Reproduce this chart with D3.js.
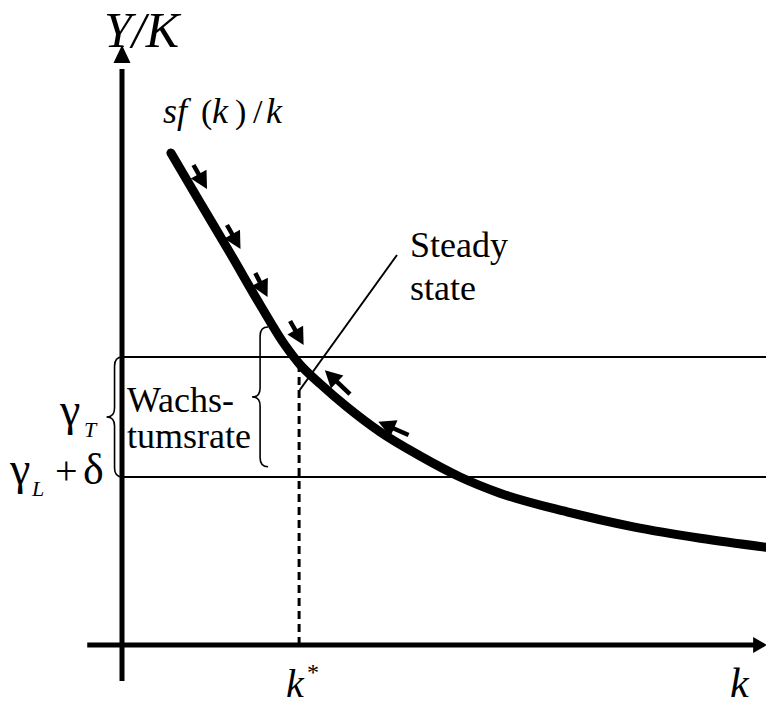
<!DOCTYPE html>
<html>
<head>
<meta charset="utf-8">
<script src="https://cdn.jsdelivr.net/npm/d3@7"></script>
<style>
  body { margin: 0; background: #fff; }
</style>
</head>
<body>
<svg id="chart"></svg>
<script>
// curve sf(k)/k (k, Y/K in arbitrary units 0..10)
const curveK = [0.76, 1.21, 1.68, 2.14, 2.53, 2.76, 3.08, 3.49, 4.01, 4.63, 5.25, 5.87, 6.91, 7.94, 8.98, 10.0];
const curveV = [8.2, 7.38, 6.53, 5.68, 5.0, 4.68, 4.35, 3.97, 3.55, 3.15, 2.8, 2.53, 2.22, 1.97, 1.78, 1.63];

// horizontal levels
const rateT = 4.8;   // gamma_T
const rateL = 2.8;   // gamma_L + delta
const kStar = 2.75;

// little arrows along the curve (tail -> tip)
const arrowTailK = [1.11, 1.63, 2.07, 2.61, 3.54, 4.45];
const arrowTailV = [8.0, 7.0, 6.2, 5.4, 4.18, 3.5];
const arrowTipK  = [1.32, 1.84, 2.26, 2.82, 3.15, 3.98];
const arrowTipV  = [7.6, 6.6, 5.8, 5.0, 4.58, 3.72];

// leader line to "Steady state"
const leaderK = [4.27, 2.76];
const leaderV = [6.5, 4.25];

// braces: k of tip, v bottom, v top
const braceK  = [-0.24, 2.02];
const braceV0 = [rateL, 2.97];
const braceV1 = [rateT, 5.3];

const width = 766;
const height = 705;
const serif = "'Liberation Serif', 'Times New Roman', Tinos, 'DejaVu Serif', 'Noto Serif', serif";

const svg = d3.select("#chart")
  .attr("width", width)
  .attr("height", height);

const x = d3.scaleLinear().domain([0, 10]).range([122, 766]);
const y = d3.scaleLinear().domain([0, 10]).range([645, 45]);

// horizontal rate lines
[rateT, rateL].forEach(v => {
  svg.append("line")
    .attr("x1", x(0)).attr("x2", x(10))
    .attr("y1", y(v)).attr("y2", y(v))
    .attr("stroke", "#000").attr("stroke-width", 2);
});

// dashed line at k*
const curveAtStar = d3.scaleLinear().domain(curveK).range(curveV)(kStar);
svg.append("line")
  .attr("x1", x(kStar)).attr("x2", x(kStar))
  .attr("y1", y(0)).attr("y2", y(curveAtStar) + 4)
  .attr("stroke", "#000").attr("stroke-width", 3)
  .attr("stroke-dasharray", "8,5");

// axes
svg.append("line")
  .attr("x1", x(0)).attr("x2", x(0))
  .attr("y1", y(-0.6)).attr("y2", y(9.6))
  .attr("stroke", "#000").attr("stroke-width", 5);
svg.append("path")
  .attr("d", `M${x(0)},${y(10)} L${x(0) - 8.5},${y(9.7)} L${x(0) + 8.5},${y(9.7)} Z`)
  .attr("fill", "#000");

svg.append("line")
  .attr("x1", x(-0.54)).attr("x2", x(9.82))
  .attr("y1", y(0)).attr("y2", y(0))
  .attr("stroke", "#000").attr("stroke-width", 5);
svg.append("path")
  .attr("d", `M${x(10) + 1},${y(0)} L${x(9.8)},${y(0) - 8} L${x(9.8)},${y(0) + 8} Z`)
  .attr("fill", "#000");

// the curve
const line = d3.line()
  .x(d => x(d[0]))
  .y(d => y(d[1]))
  .curve(d3.curveMonotoneX);

svg.append("path")
  .datum(d3.zip(curveK, curveV))
  .attr("d", line)
  .attr("fill", "none")
  .attr("stroke", "#000")
  .attr("stroke-width", 9)
  .attr("stroke-linecap", "round");

// leader line
svg.append("line")
  .attr("x1", x(leaderK[0])).attr("y1", y(leaderV[0]))
  .attr("x2", x(leaderK[1])).attr("y2", y(leaderV[1]))
  .attr("stroke", "#000").attr("stroke-width", 2);

// arrows
arrowTailK.forEach((k, i) => {
  const x0 = x(k), y0 = y(arrowTailV[i]);
  const x1 = x(arrowTipK[i]), y1 = y(arrowTipV[i]);
  const len = Math.hypot(x1 - x0, y1 - y0);
  const ux = (x1 - x0) / len, uy = (y1 - y0) / len;
  const hl = 17, hw = 9;
  const bx = x1 - ux * hl, by = y1 - uy * hl;
  svg.append("line")
    .attr("x1", x0).attr("y1", y0)
    .attr("x2", bx + ux * 2).attr("y2", by + uy * 2)
    .attr("stroke", "#000").attr("stroke-width", 4.5);
  svg.append("path")
    .attr("d", `M${x1},${y1} L${bx - uy * hw},${by + ux * hw} L${bx + uy * hw},${by - ux * hw} Z`)
    .attr("fill", "#000");
});

// braces (opening to the right, tip on the left)
function brace(kTip, v0, v1) {
  const xt = x(kTip), xm = xt + 8, xe = xt + 16;
  const ya = y(v1), yb = y(v0), ym = (ya + yb) / 2, r = 9;
  return `M${xe},${ya} Q${xm},${ya} ${xm},${ya + r} L${xm},${ym - r} Q${xm},${ym} ${xt},${ym}` +
         ` Q${xm},${ym} ${xm},${ym + r} L${xm},${yb - r} Q${xm},${yb} ${xe},${yb}`;
}
braceK.forEach((k, i) => {
  svg.append("path")
    .attr("d", brace(k, braceV0[i], braceV1[i]))
    .attr("fill", "none").attr("stroke", "#000").attr("stroke-width", 1.6);
});

// labels
function label(tx, ty, str, size, italic) {
  return svg.append("text")
    .attr("x", tx).attr("y", ty)
    .attr("font-family", serif)
    .attr("font-size", size)
    .attr("font-style", italic ? "italic" : "normal")
    .attr("fill", "#000")
    .text(str);
}

label(104, 47, "Y/K", 50, true);

label(163, 123, "sf", 36, true);
label(201, 123, "(", 34);
label(212, 123, "k", 36, true);
label(235, 123, ")", 34);
label(253, 123, "/", 34);
label(266, 123, "k", 36, true);

label(410, 257, "Steady", 36);
label(410, 300, "state", 36);

label(127, 412, "Wachs-", 36);
label(127, 448, "tumsrate", 36);

label(60, 425, "γ", 46);
label(84, 437, "T", 22, true);
label(10, 484, "γ", 46);
label(32, 496, "L", 22, true);
label(55, 484, "+", 40);
label(83, 484, "δ", 44);

label(286, 697, "k", 40, true);
label(307, 680, "*", 24);
label(730, 697, "k", 42, true);
</script>
</body>
</html>
